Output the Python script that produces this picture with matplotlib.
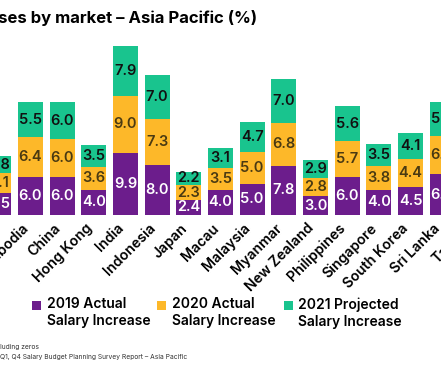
import numpy as np
import matplotlib
matplotlib.use("Agg")
import matplotlib.pyplot as plt
from matplotlib.patches import Rectangle
from matplotlib.transforms import ScaledTranslation, blended_transform_factory

# data (first and last bars are cut off in the crop)
markets = ["Australia", "Cambodia", "China", "Hong Kong", "India", "Indonesia",
           "Japan", "Macau", "Malaysia", "Myanmar", "New Zealand", "Philippines",
           "Singapore", "South Korea", "Sri Lanka", "Taiwan"]
actual_2019 = [3.5, 6.0, 6.0, 4.0, 9.9, 8.0, 2.4, 4.0, 5.0, 7.8, 3.0, 6.0, 4.0, 4.5, 6.5]
actual_2020 = [3.1, 6.4, 6.0, 3.6, 9.0, 7.3, 2.3, 3.5, 5.0, 6.8, 2.8, 5.7, 3.8, 4.4, 6.0]
projected_2021 = [2.8, 5.5, 6.0, 3.5, 7.9, 7.0, 2.2, 3.1, 4.7, 7.0, 2.9, 5.6, 3.5, 4.1, 5.5]
series_names = ["2019 Actual\nSalary Increase", "2020 Actual\nSalary Increase",
                "2021 Projected\nSalary Increase"]

PURPLE = "#6c1d8c"
YELLOW = "#fdb829"
GREEN = "#19c48e"
colors = [PURPLE, YELLOW, GREEN]
text_colors = ["white", "#4a3a12", "#111111"]

plt.rcParams["font.family"] = ["Inter", "DejaVu Sans"]

fig = plt.figure(figsize=(4.41, 3.68), dpi=100)
ax = fig.add_axes([0, 0.4158, 1, 0.4755])

x = np.arange(len(actual_2019))
bottom = np.zeros(len(x))
for vals, col, tcol in zip([actual_2019, actual_2020, projected_2021], colors, text_colors):
    vals = np.array(vals)
    bars = ax.bar(x, vals, width=0.79, bottom=bottom, color=col, linewidth=0)
    for b, v, b0 in zip(bars, vals, bottom):
        ax.text(b.get_x() + b.get_width() / 2, b0 + v / 2, f"{v:.1f}",
                ha="center", va="center", color=tcol, fontsize=10.5,
                fontweight="semibold")
    bottom += vals

ax.set_xticks([])
ax.set_yticks([])
ax.set_xlim(0.038, 0.038 + 441 / 31.67)
ax.set_ylim(0, 27.8)
for s in ax.spines.values():
    s.set_visible(False)

# slanted market names under the bars (drawn as texts so the cut-off ones still show)
name_tr = blended_transform_factory(ax.transData, ax.transAxes) + \
    ScaledTranslation(-0.04, -0.11, fig.dpi_scale_trans)
for i, name in enumerate(markets):
    ax.text(i, 0, name, transform=name_tr, rotation=45, rotation_mode="anchor",
            ha="right", va="center", fontsize=10.2, fontweight="semibold",
            clip_on=False)

# title, cut off on the left like the reference crop
fig.text(257 / 441, 1 - 18 / 368, "Salary increases by market \u2013 Asia Pacific (%)",
         ha="right", va="center", fontsize=12, fontweight="bold")

# legend drawn by hand so the square sits on the first line
sq_x = [32, 157, 284]
txt_x = [47, 172, 298]
for sx, tx, col, name in zip(sq_x, txt_x, colors, series_names):
    fig.patches.append(Rectangle((sx / 441, 1 - 310 / 368), 9 / 441, 9 / 368,
                                 transform=fig.transFigure, color=col, linewidth=0))
    fig.text(tx / 441, 1 - 297 / 368, name, ha="left", va="top", fontsize=10,
             fontweight="semibold", linespacing=1.3)

fig.text(39 / 441, 1 - 347 / 368, "Note: Average excluding zeros",
         ha="right", va="center", fontsize=4.8, color="#333333")
fig.text(187 / 441, 1 - 357 / 368,
         "Source: WTW 2020 Q1, Q4 Salary Budget Planning Survey Report \u2013 Asia Pacific",
         ha="right", va="center", fontsize=4.8, color="#333333")

fig.savefig("out.png", dpi=100)
